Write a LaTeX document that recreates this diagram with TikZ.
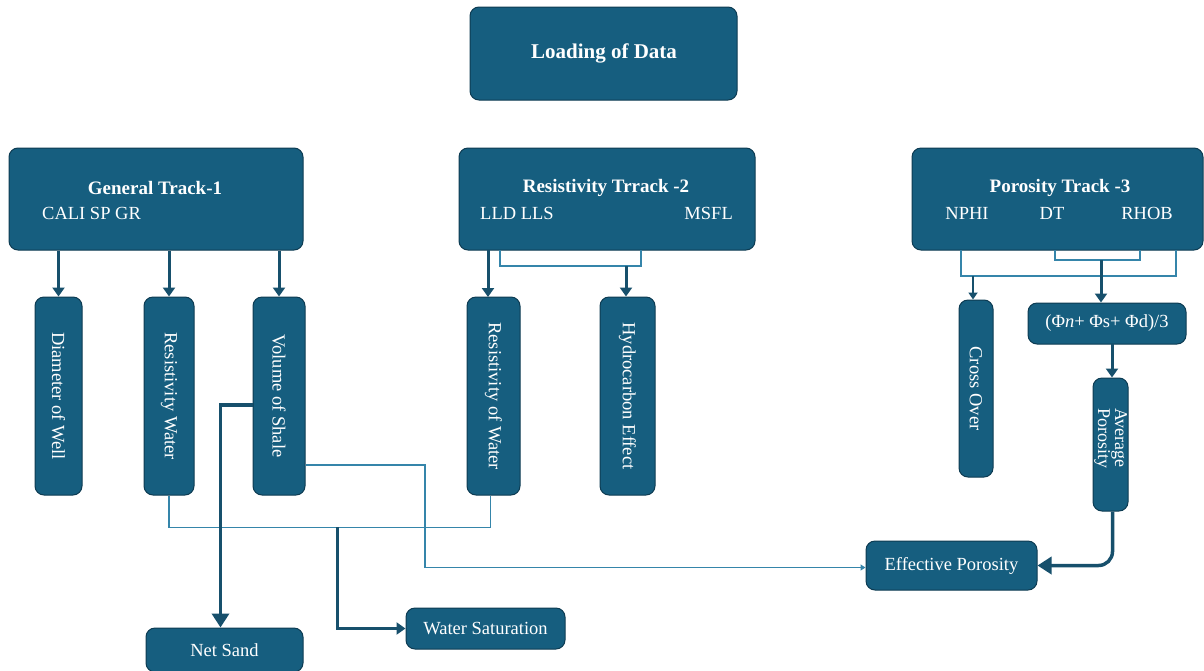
\documentclass[tikz,border=0pt]{standalone}
\usepackage{fontspec}
\setmainfont{Liberation Serif}
\usetikzlibrary{arrows.meta,calc}
\definecolor{boxfill}{HTML}{165E7F}
\definecolor{boxedge}{HTML}{0D3B52}
\definecolor{flow}{HTML}{17506C}
\definecolor{link}{HTML}{3585AA}
\begin{document}
\begin{tikzpicture}[x=1pt,y=-1pt,
  box/.style={draw=boxedge, line width=1pt, fill=boxfill, rounded corners=9pt,
              text=white, inner sep=0pt, align=center, font=\fontsize{18.5}{20}\selectfont},
  ttl/.style={text=white, inner sep=0pt, font=\bfseries\fontsize{19}{21}\selectfont},
  sub/.style={text=white, inner sep=0pt, font=\fontsize{18.5}{20}\selectfont},
  flowarrow/.style={draw=flow, line width=3pt, -{Triangle[width=12pt,length=9pt]}},
  bigarrow/.style={draw=flow, line width=3.5pt, -{Triangle[width=17pt,length=14pt]}},
  linkline/.style={draw=link, line width=1.3pt},
  linkarrow/.style={draw=link, line width=1.3pt, -{Triangle[width=6pt,length=5pt]}}]
\useasboundingbox (0,0) rectangle (1204,670);

% top box
\node[box, minimum width=267pt, minimum height=93pt] (load) at (603.5,53.5) {};
\node[ttl, font=\bfseries\fontsize{21}{23}\selectfont] (loadt) at (604,53) {Loading of Data};

% track boxes
\node[box, minimum width=294pt, minimum height=102pt] (gen) at (156,199) {};
\node[ttl] (gent) at (155,188) {General Track-1};
\node[sub, anchor=west] (gens) at (42,213) {CALI SP GR};

\node[box, minimum width=296pt, minimum height=102pt] (res) at (607,199) {};
\node[ttl] (rest) at (606,188) {Resistivity Trrack -2};
\node[sub, anchor=west] (resa) at (480,213) {LLD LLS};
\node[sub, anchor=east] (resb) at (733,213) {MSFL};

\node[box, minimum width=291pt, minimum height=102pt] (por) at (1057.5,199) {};
\node[ttl] (port) at (1060,188) {Porosity Track -3};
\node[sub] (pora) at (967,213) {NPHI};
\node[sub] (porb) at (1052,213) {DT};
\node[sub] (porc) at (1147,213) {RHOB};

% vertical result boxes
\node[box, minimum width=47pt, minimum height=198pt] (diam) at (58.5,396) {};
\node[sub, rotate=-90] (diamt) at (58.5,396) {Diameter of Well};
\node[box, minimum width=50pt, minimum height=198pt] (rw) at (169,396) {};
\node[sub, rotate=-90] (rwt) at (169,396) {Resistivity Water};
\node[box, minimum width=52pt, minimum height=198pt] (vsh) at (279,396) {};
\node[sub, rotate=-90] (vsht) at (279,396) {Volume of Shale};
\node[box, minimum width=53pt, minimum height=198pt] (row) at (493.5,396) {};
\node[sub, rotate=-90] (rowt) at (493.5,396) {Resistivity of Water};
\node[box, minimum width=55pt, minimum height=198pt] (hc) at (627.5,396) {};
\node[sub, rotate=-90] (hct) at (627.5,396) {Hydrocarbon Effect};
\node[box, minimum width=34pt, minimum height=177pt] (co) at (976,388.5) {};
\node[sub, rotate=-90] (cot) at (976,388.5) {Cross Over};
\node[box, minimum width=158pt, minimum height=41pt] (form) at (1107,323.5) {};
\node[sub] (formt) at (1107,323.5) {(Φ\textit{n}+ Φs+ Φd)/3};
\node[box, minimum width=35pt, minimum height=133pt] (avg) at (1110.5,444.5) {};
\node[sub, rotate=-90, align=center, font=\fontsize{18}{17}\selectfont] (avgt) at (1110.5,438) {Average\\Porosity};

% final boxes
\node[box, minimum width=171pt, minimum height=49pt] (eff) at (951.5,565.5) {Effective Porosity};
\node[box, minimum width=157pt, minimum height=44pt] (net) at (224.5,650) {Net Sand};
\node[box, minimum width=159pt, minimum height=41pt] (ws) at (485.5,628.5) {Water Saturation};

% arrows from the general track
\draw[flowarrow] (gen.south -| diam.north) -- (diam.north);
\draw[flowarrow] (gen.south -| rw.north) -- (rw.north);
\draw[flowarrow] (gen.south -| vsh.north) -- (vsh.north);

% arrows from the resistivity track
\draw[flowarrow] (488,250) -- (488,297);
\draw[linkline] (500,250) -- (500,266) -- (641,266) -- (641,250);
\coordinate (hcj) at (626,266);
\draw[flowarrow] (hcj) -- (hcj |- hc.north);

% arrows from the porosity track
\draw[linkline] (961,250) -- (961,276) -- (1176,276) -- (1176,250);
\draw[linkline] (1055,250) -- (1055,260) -- (1140,260) -- (1140,250);
\coordinate (coj) at (973,276);
\draw[draw=flow, line width=2.5pt, -{Triangle[width=9pt,length=7pt]}] (coj) -- (coj |- co.north);
\coordinate (fj) at (1101,260);
\draw[flowarrow] (fj) -- (fj |- form.north);
\coordinate (aj) at (1112,344);
\draw[flowarrow] (aj) -- (aj |- avg.north);
\draw[bigarrow, rounded corners=14pt] ($(avg.south)+(2,0)$) |- (eff.east);

% water resistivity links and water saturation
\draw[linkline] (rw.south) -- ++(0,32) -| ($(row.south)+(-3,0)$);
\coordinate (sj) at (337,527);
\draw[flowarrow] (sj) |- (ws.west);

% volume of shale to net sand and effective porosity
\draw[bigarrow] ($(vsh.west)+(0,9)$) -| ($(net.north)+(-4,0)$);
\draw[linkarrow] ($(vsh.east)+(0,69)$) -- (425,465) |- ($(eff.west)+(0,2)$);
\end{tikzpicture}
\end{document}
